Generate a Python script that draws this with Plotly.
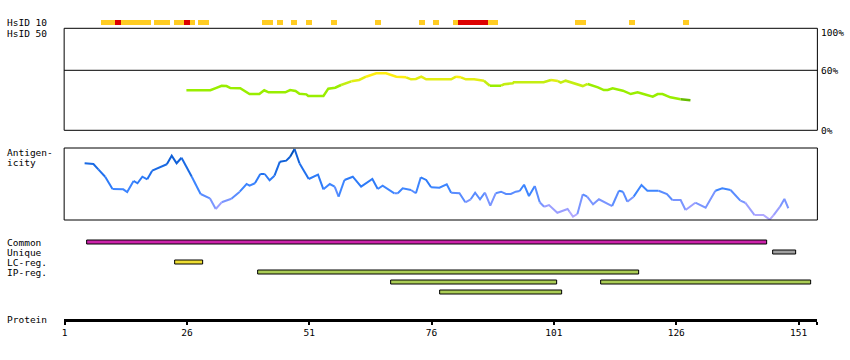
import plotly.graph_objects as go

W, H = 850, 360
FONT = dict(family="DejaVu Sans Mono", size=9.5, color="black")

# ---------------- data ----------------
# HsID 10 strip: residues with identity hits
hsid10_yellow = [9, 10, 11, 13, 14, 15, 16, 17, 18, 20, 21, 22, 24, 25, 27, 29, 30,
                 42, 43, 45, 48, 51, 56, 65, 74, 77, 81, 88, 89, 106, 107, 117, 128]
hsid10_red = [12, 26, 82, 83, 84, 85, 86, 87]

# HsID 50 profile (residue, percent)
hsid50_pos = [25.9, 30.8, 31.9, 33.1, 34.1, 34.9, 36.9, 38.0, 38.8, 40.8, 41.8, 42.7,
              46.1, 47.1, 48.2, 49.0, 50.4, 50.8, 53.9, 54.9, 56.3, 57.5, 59.6, 61.2,
              62.6, 64.7, 66.7, 68.8, 70.8, 71.8, 72.8, 73.9, 74.9, 80.0, 81.0, 82.0,
              83.0, 84.7, 86.7, 87.9, 90.2, 90.8, 92.6, 92.8, 98.9, 100.4, 101.8, 102.4,
              103.4, 104.9, 106.9, 107.9, 110.0, 111.2, 112.0, 113.0, 115.1, 116.7,
              118.1, 119.3, 121.2, 122.2, 123.2, 124.8, 126.9, 128.9]
hsid50_val = [41.0, 41.0, 43.1, 45.3, 45.0, 43.1, 42.9, 39.6, 37.4, 37.4, 41.0, 39.0,
              39.0, 41.2, 40.3, 37.7, 37.1, 35.5, 35.5, 42.5, 43.4, 46.0, 49.5, 50.8,
              53.9, 57.1, 57.1, 53.9, 53.3, 51.4, 51.7, 53.9, 51.4, 51.4, 53.9, 53.3,
              51.4, 51.4, 50.1, 45.3, 45.3, 46.7, 47.6, 48.6, 48.6, 50.8, 49.8, 48.2,
              50.1, 47.6, 45.0, 47.0, 43.8, 41.2, 41.2, 42.9, 40.6, 37.4, 39.0, 37.4,
              34.9, 37.4, 37.4, 34.3, 32.4, 31.4]

# Antigenicity profile (residue, score 0-100)
antigen_pos = [5.1, 6.9, 7.9, 9.3, 10.8, 13.0, 13.8, 15.1, 15.9, 16.9, 17.9, 18.9, 20.2,
               21.9, 22.9, 23.9, 24.9, 27.0, 28.8, 30.7, 31.9, 33.1, 35.1, 36.8, 38.2,
               38.8, 39.9, 41.0, 41.9, 42.9, 43.9, 45.0, 46.3, 47.1, 48.0, 49.0, 50.9,
               52.8, 53.9, 55.2, 56.2, 57.0, 58.2, 59.9, 61.6, 63.9, 65.0, 66.0, 68.4,
               69.1, 70.1, 71.8, 72.8, 73.8, 74.9, 75.9, 77.6, 79.1, 80.0, 81.7, 82.9,
               84.0, 84.9, 85.9, 86.9, 88.0, 89.1, 90.2, 91.2, 92.2, 93.2, 94.0, 94.9,
               95.9, 97.1, 98.1, 99.0, 100.0, 101.7, 103.8, 104.2, 104.9, 105.8, 106.9,
               107.8, 109.0, 110.2, 112.9, 114.3, 115.1, 116.0, 117.3, 118.9, 120.1,
               122.4, 124.1, 125.2, 126.9, 127.9, 129.9, 132.0, 134.0, 135.4, 137.1,
               139.1, 140.1, 142.0, 143.8, 145.1, 145.9, 147.2, 148.1, 148.9]
antigen_val = [78.8, 77.8, 70.4, 60.1, 43.1, 42.6, 38.9, 54.2, 51.0, 60.1, 56.5, 68.5,
               72.2, 77.4, 89.3, 78.8, 86.5, 60.1, 36.1, 30.1, 15.3, 24.6, 29.6, 39.3,
               50.0, 47.6, 51.0, 63.9, 63.9, 55.1, 61.5, 81.0, 82.4, 87.9, 98.6, 78.8,
               56.9, 62.9, 42.6, 50.0, 46.3, 32.4, 55.6, 60.1, 46.3, 56.9, 43.1, 47.6,
               37.1, 37.1, 44.0, 41.7, 37.1, 59.3, 55.6, 45.4, 44.9, 49.6, 37.9, 37.1,
               24.6, 28.8, 37.9, 28.8, 37.9, 19.9, 37.1, 39.3, 36.1, 36.1, 39.3, 40.3,
               49.0, 33.3, 47.2, 24.6, 18.5, 20.8, 10.1, 15.3, 11.5, 4.6, 8.3, 35.7,
               32.4, 21.8, 28.8, 19.4, 40.7, 39.3, 25.4, 32.4, 48.6, 40.7, 40.7, 36.1,
               27.8, 27.8, 13.9, 24.0, 17.1, 40.7, 44.0, 41.7, 26.8, 24.0, 6.9, 6.9,
               0.5, 6.9, 18.5, 29.2, 16.3]

# Feature tracks: (row, start, end)
track_labels = ["Common", "Unique", "LC-reg.", "IP-reg."]
common_regions = [(0, 5.7, 144.5)]
unique_regions = [(1, 145.8, 150.5)]
lc_regions = [(2, 23.7, 29.4)]
ip_regions = [(3, 40.6, 118.5), (4, 67.7, 101.6), (4, 110.7, 153.6), (5, 77.7, 102.6)]

tick_vals = [1, 26, 51, 76, 101, 126, 151]
tick_text = ["1", "26", "51", "76", "101", "126", "151"]
X_MIN, X_MAX = 0.918, 154.84

# ---------------- helpers ----------------
def py(p):
    return (H - p) / H


def colored_runs(xs, ys, edges, colors, width, yaxis):
    traces = []
    def bin_of(v):
        return sum(v >= e for e in edges)
    run_x, run_y, cur = [xs[0]], [ys[0]], None
    for i in range(len(xs) - 1):
        b = bin_of((ys[i] + ys[i + 1]) / 2)
        if cur is None:
            cur = b
        if b != cur:
            traces.append((cur, run_x, run_y))
            run_x, run_y = [xs[i]], [ys[i]]
            cur = b
        run_x.append(xs[i + 1])
        run_y.append(ys[i + 1])
    traces.append((cur, run_x, run_y))
    out = []
    for b, rx, ry in traces:
        out.append(go.Scatter(x=rx, y=ry, mode="lines", yaxis=yaxis,
                              line=dict(color=colors[b], width=width),
                              showlegend=False, hoverinfo="skip"))
    return out


fig = go.Figure()

# HsID 10 strip
fig.add_trace(go.Bar(x=hsid10_yellow, y=[1] * len(hsid10_yellow), base=0, width=1.223,
                     marker=dict(color="#FFCC22", line=dict(width=0)), yaxis="y",
                     showlegend=False, hoverinfo="skip"))
fig.add_trace(go.Bar(x=hsid10_red, y=[1] * len(hsid10_red), base=0, width=1.223,
                     marker=dict(color="#DD0000", line=dict(width=0)), yaxis="y",
                     showlegend=False, hoverinfo="skip"))

# HsID 50 profile
h_edges = [33, 46, 50, 53]
h_colors = ["#66BB00", "#99EE00", "#C4EE11", "#E2EE11", "#FFEE11"]
for t in colored_runs(hsid50_pos, hsid50_val, h_edges, h_colors, 2.5, "y2"):
    fig.add_trace(t)

# Antigenicity profile
a_edges = [10, 20, 30, 40, 50, 60, 70, 80, 90]
a_colors = ["#B0A8FF", "#9A9EFF", "#7A95FF", "#5A8CFF", "#3D85FF", "#2E7BF8",
            "#2070EE", "#1A6AE4", "#1060D8", "#0050BB"]
for t in colored_runs(antigen_pos, antigen_val, a_edges, a_colors, 2, "y3"):
    fig.add_trace(t)

# Feature tracks
def add_track(regions, color):
    fig.add_trace(go.Bar(orientation="h",
                         y=[r[0] for r in regions],
                         x=[r[2] - r[1] for r in regions],
                         base=[r[1] for r in regions],
                         width=0.35, yaxis="y4",
                         marker=dict(color=color, line=dict(color="black", width=1)),
                         showlegend=False, hoverinfo="skip"))

add_track(common_regions, "#CC22AA")
add_track(unique_regions, "#A0A0A0")
add_track(lc_regions, "#EEDD33")
add_track(ip_regions, "#AACC55")

hidden = dict(visible=False, fixedrange=True)
fig.update_layout(
    width=W, height=H, margin=dict(l=0, r=0, t=0, b=0),
    paper_bgcolor="white", plot_bgcolor="white",
    barmode="overlay", bargap=0,
    showlegend=False,
    xaxis=dict(domain=[62.3 / W, 817.3 / W], range=[X_MIN, X_MAX],
               anchor="free", position=py(319.7),
               showline=True, linewidth=3, linecolor="black",
               ticks="outside", ticklen=3, tickwidth=2, tickcolor="black",
               tickvals=tick_vals + [X_MAX], ticktext=tick_text + [""],
               tickfont=FONT, showgrid=False, zeroline=False, fixedrange=True),
    yaxis=dict(domain=[py(25), py(20)], range=[0, 1], anchor="x", **hidden),
    yaxis2=dict(domain=[py(130.3), py(28.3)], range=[2.86, 100], anchor="x", **hidden),
    yaxis3=dict(domain=[py(220), py(148)], range=[0, 100], anchor="x", **hidden),
    yaxis4=dict(domain=[py(297.5), py(237.5)], range=[5.5, -0.5], anchor="x", **hidden),
)

# panel frames and 60% reference line
for yr in ["y2 domain", "y3 domain"]:
    fig.add_shape(type="rect", xref="x domain", yref=yr, x0=0, x1=1, y0=0, y1=1,
                  line=dict(color="black", width=1))
fig.add_shape(type="line", xref="x domain", yref="y2", x0=0, x1=1, y0=60, y1=60,
              line=dict(color="black", width=1))

labels = [("HsID 10", 22.5), ("HsID 50", 33), ("Antigen-", 152.5), ("icity", 162.5),
          ("Common", 242.5), ("Unique", 252.5), ("LC-reg.", 262.5), ("IP-reg.", 272.5),
          ("Protein", 319.5)]
for txt, ypx in labels:
    fig.add_annotation(text=txt, xref="paper", yref="paper", x=3 / W, y=py(ypx),
                       xanchor="left", yanchor="middle", showarrow=False, font=FONT)
for txt, ypx in [("100%", 32.3), ("60%", 70.3), ("0%", 130.5)]:
    fig.add_annotation(text=txt, xref="paper", yref="paper", x=819 / W, y=py(ypx),
                       xanchor="left", yanchor="middle", showarrow=False, font=FONT)

fig.write_html("out.html", config={"displayModeBar": False},
               post_script="document.body.style.margin='0';document.body.style.padding='0';"
                           "document.documentElement.style.overflow='hidden';")
